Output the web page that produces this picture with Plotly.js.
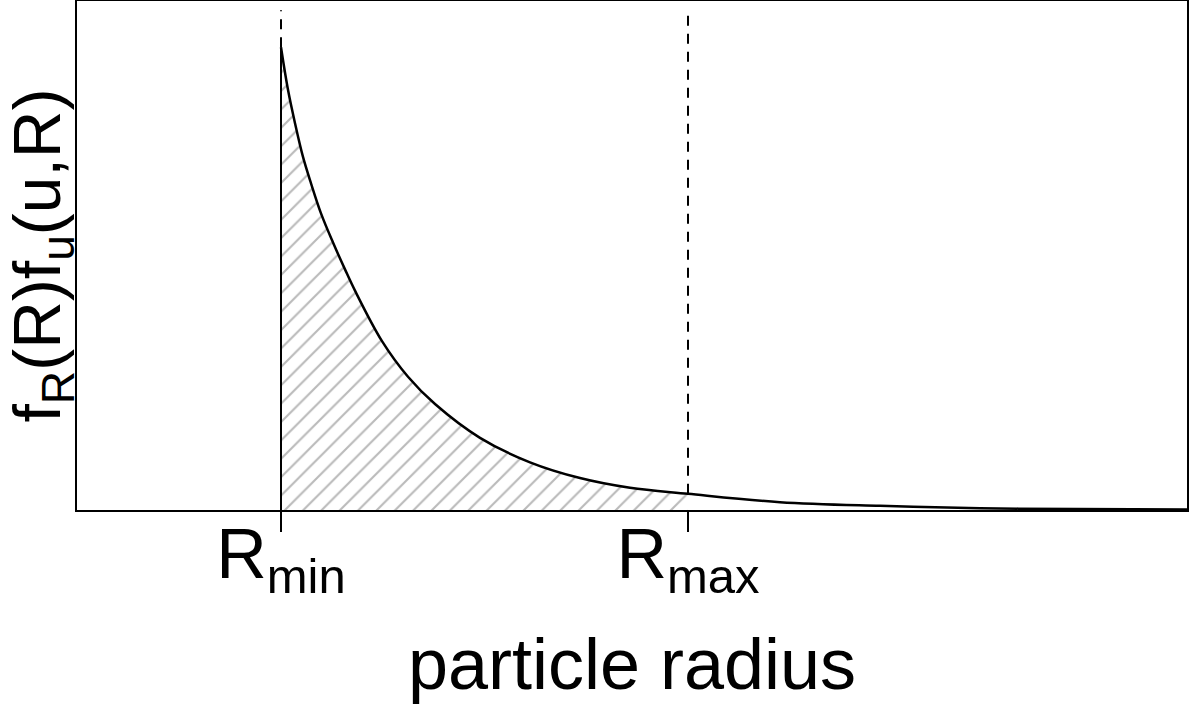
<!DOCTYPE html>
<html>
<head>
<meta charset="utf-8">
<script src="https://cdn.plot.ly/plotly-3.0.1.min.js"></script>
<style>
  html, body { margin: 0; padding: 0; background: #fff; }
  #plot { width: 1200px; height: 705px; }
</style>
</head>
<body>
<div id="plot"></div>
<script>
// particle radius (arbitrary units) and density
const radius = [2.04, 2.11, 2.18, 2.26, 2.34, 2.44, 2.56, 2.68, 2.78, 3.05, 3.31, 3.58, 4.03, 4.53, 5.03, 5.53, 6.11, 7.03, 8.03, 9.03, 10.0, 11.1];
const density = [1.0, 0.908, 0.836, 0.763, 0.706, 0.641, 0.578, 0.520, 0.474, 0.365, 0.288, 0.229, 0.156, 0.103, 0.069, 0.048, 0.035, 0.017, 0.009, 0.004, 0.002, 0.001];

const rMin = 2.04;
const rMax = 6.11;
const tickVals = [rMin, rMax];
const tickText = ["R<sub>min</sub>", "R<sub>max</sub>"];
const dashTop = 1.08;

// shaded part between Rmin and Rmax
const shadeX = [];
const shadeY = [];
radius.forEach((r, i) => {
  if (r >= rMin && r <= rMax) {
    shadeX.push(r);
    shadeY.push(density[i]);
  }
});
const peak = density[0];
const atMax = density[radius.indexOf(rMax)];

const shade = {
  x: shadeX,
  y: shadeY,
  type: "scatter",
  mode: "lines",
  line: { width: 0, shape: "spline", color: "rgba(0,0,0,0)" },
  fill: "tozeroy",
  fillcolor: "rgba(0,0,0,0)",
  fillpattern: { shape: "/", fgcolor: "#bababa", bgcolor: "white", size: 13, solidity: 0.16 },
  hoverinfo: "skip",
};

const curve = {
  x: radius,
  y: density,
  type: "scatter",
  mode: "lines",
  line: { color: "black", width: 2.5, shape: "spline", smoothing: 1 },
};

const minEdge = {
  x: [rMin, rMin],
  y: [0, peak],
  type: "scatter",
  mode: "lines",
  line: { color: "black", width: 2 },
};

const minDash = {
  x: [rMin, rMin],
  y: [peak, dashTop],
  type: "scatter",
  mode: "lines",
  line: { color: "black", width: 2, dash: "10px,8px" },
};

const maxDash = {
  x: [rMax, rMax],
  y: [atMax, dashTop],
  type: "scatter",
  mode: "lines",
  line: { color: "black", width: 2, dash: "10px,8px" },
};

const layout = {
  width: 1200,
  height: 705,
  margin: { l: 77, r: 13, t: 1, b: 195 },
  showlegend: false,
  paper_bgcolor: "white",
  plot_bgcolor: "white",
  font: { family: "Liberation Sans, Arial, sans-serif", color: "black" },
  xaxis: {
    range: [0, 11.1],
    showgrid: false,
    zeroline: false,
    showline: true,
    mirror: true,
    linecolor: "black",
    linewidth: 2,
    ticks: "outside",
    ticklen: 20,
    tickwidth: 2,
    tickcolor: "black",
    tickmode: "array",
    tickvals: tickVals,
    ticktext: tickText,
    tickfont: { size: 70 },
    ticklabelstandoff: -38,
    title: { text: "particle radius", font: { size: 72 }, standoff: 37 },
  },
  yaxis: {
    range: [0, 1.1],
    showgrid: false,
    zeroline: false,
    showline: true,
    mirror: true,
    linecolor: "black",
    linewidth: 2,
    showticklabels: false,
    ticks: "",
    title: { text: "f<sub>R</sub>(R)f<sub>u</sub>(u,R)", font: { size: 66 }, standoff: 14 },
  },
};

Plotly.newPlot("plot", [shade, curve, minEdge, minDash, maxDash], layout, { displayModeBar: false });
</script>
</body>
</html>
